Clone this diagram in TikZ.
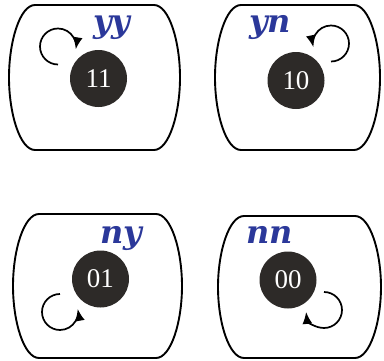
\documentclass[tikz,border=0pt]{standalone}
\usepackage{fontspec}
\setmainfont{Liberation Serif}
\newfontfamily\labelfont{DejaVu Serif}
\usepackage{tikz}
\usetikzlibrary{automata, positioning, arrows.meta}
\usepackage{xcolor}
\definecolor{statefill}{RGB}{45,42,40}
\definecolor{labelblue}{RGB}{43,56,154}

\begin{document}
\begin{tikzpicture}[x=1pt,y=1pt,line width=1.7pt,node distance=197.5pt,
    every state/.style={fill=statefill,draw=none,minimum size=57pt,text=white},
    digits/.style={font=\fontsize{27pt}{29pt}\selectfont},
    roombox/.style={line width=1.9pt},
    loopline/.style={-{Latex[length=12pt,width=10pt]},line width=1.7pt},
    caption/.style={anchor=base,text=labelblue,font=\labelfont\bfseries\itshape\fontsize{32}{36}\selectfont}]
  \useasboundingbox (0,0) rectangle (384,360);
  % the four rooms
  \foreach \cx/\cy/\a/\b in {94.5/282.5/85.5/72.5, 297.5/282.5/82.5/72.5, 97.5/74/84.5/72, 299.5/73/81.5/71}
    \draw[roombox] (\cx-\a+26,\cy+\b) -- (\cx+\a-26,\cy+\b)
      .. controls (\cx+\a-11,\cy+\b) and (\cx+\a,\cy+0.5*\b) .. (\cx+\a,\cy)
      .. controls (\cx+\a,\cy-0.5*\b) and (\cx+\a-11,\cy-\b) .. (\cx+\a-26,\cy-\b)
      -- (\cx-\a+26,\cy-\b)
      .. controls (\cx-\a+11,\cy-\b) and (\cx-\a,\cy-0.5*\b) .. (\cx-\a,\cy)
      .. controls (\cx-\a,\cy+0.5*\b) and (\cx-\a+11,\cy+\b) .. cycle;

  \node[state,digits] (n11) at (98.5,281.5) {11};
  \node[state,digits] (n10) [right of=n11, yshift=-2pt] {10};
  \node[state,digits] (n01) [below of=n11, xshift=2pt, yshift=-3pt] {01};
  \node[state,digits] (n00) [right of=n01, xshift=-10pt, yshift=-1pt] {00};

  \node[caption] (lyy) at (112,328) {yy};
  \node[caption] (lyn) at (270,327) {yn};
  \node[caption] (lny) at (121,117) {ny};
  \node[caption] (lnn) at (270,117) {nn};

  % self loops
  \draw[loopline] ([shift={(-40.5,32)}]n11.center) ++(-90:18) arc[start angle=-90, end angle=-369, radius=18];
  \draw[loopline] ([shift={(35,37)}]n10.center) ++(-90:18) arc[start angle=-90, end angle=192, radius=18];
  \draw[loopline] ([shift={(-40.5,-33)}]n01.center) ++(90:18) arc[start angle=90, end angle=370, radius=18];
  \draw[loopline] ([shift={(36,-30)}]n00.center) ++(90:18) arc[start angle=90, end angle=-174, radius=18];
\end{tikzpicture}
\end{document}
